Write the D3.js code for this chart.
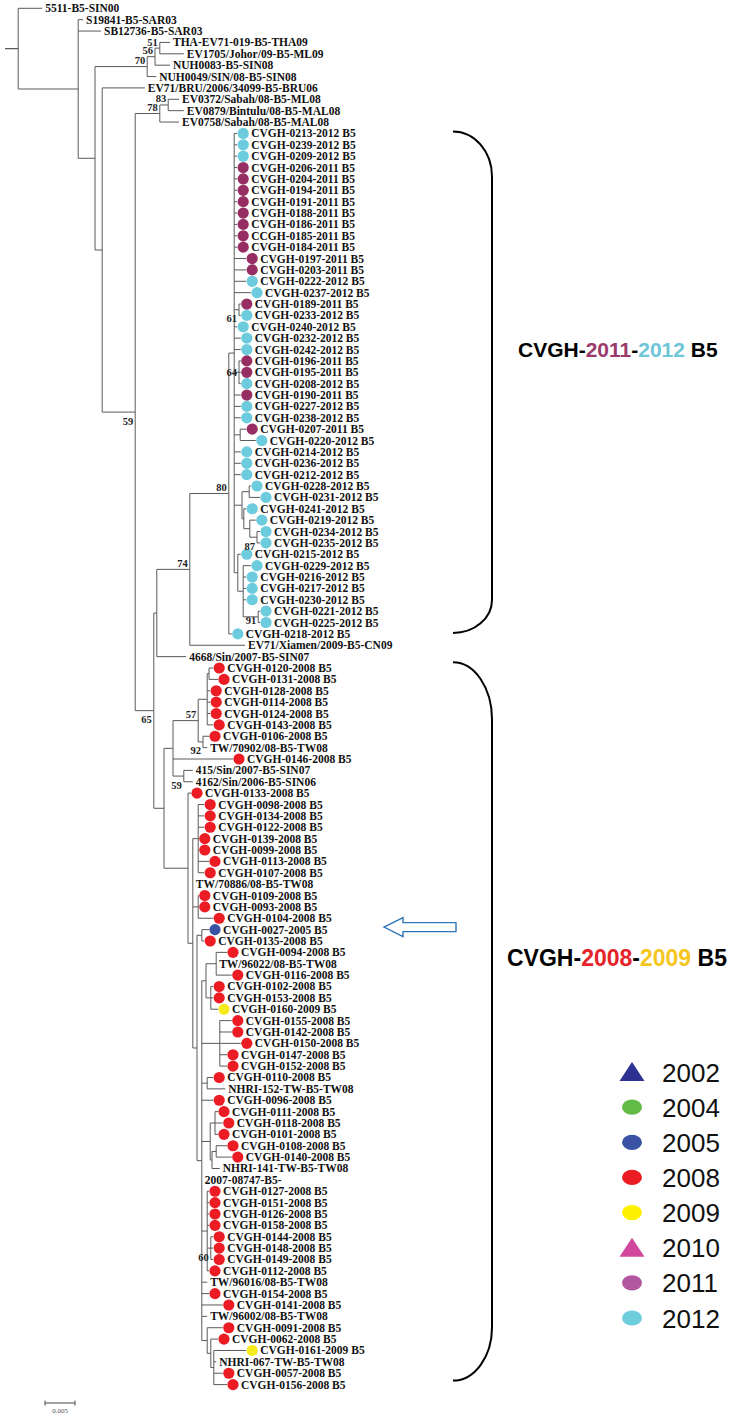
<!DOCTYPE html>
<html><head><meta charset="utf-8">
<script src="https://cdn.jsdelivr.net/npm/d3@7"></script>
<style>body{margin:0;background:#fff}</style>
</head><body>
<svg id="c" width="734" height="1417"></svg>
<script>
// ---------- DATA ----------
// depths are distances from the root, in units of 1e-4 substitutions/site
const leafNames = [
 "5511-B5-SIN00","S19841-B5-SAR03","SB12736-B5-SAR03","THA-EV71-019-B5-THA09","EV1705/Johor/09-B5-ML09",
 "NUH0083-B5-SIN08","NUH0049/SIN/08-B5-SIN08","EV71/BRU/2006/34099-B5-BRU06","EV0372/Sabah/08-B5-ML08","EV0879/Bintulu/08-B5-MAL08",
 "EV0758/Sabah/08-B5-MAL08","CVGH-0213-2012 B5","CVGH-0239-2012 B5","CVGH-0209-2012 B5","CVGH-0206-2011 B5",
 "CVGH-0204-2011 B5","CVGH-0194-2011 B5","CVGH-0191-2011 B5","CVGH-0188-2011 B5","CVGH-0186-2011 B5",
 "CCGH-0185-2011 B5","CVGH-0184-2011 B5","CVGH-0197-2011 B5","CVGH-0203-2011 B5","CVGH-0222-2012 B5",
 "CVGH-0237-2012 B5","CVGH-0189-2011 B5","CVGH-0233-2012 B5","CVGH-0240-2012 B5","CVGH-0232-2012 B5",
 "CVGH-0242-2012 B5","CVGH-0196-2011 B5","CVGH-0195-2011 B5","CVGH-0208-2012 B5","CVGH-0190-2011 B5",
 "CVGH-0227-2012 B5","CVGH-0238-2012 B5","CVGH-0207-2011 B5","CVGH-0220-2012 B5","CVGH-0214-2012 B5",
 "CVGH-0236-2012 B5","CVGH-0212-2012 B5","CVGH-0228-2012 B5","CVGH-0231-2012 B5","CVGH-0241-2012 B5",
 "CVGH-0219-2012 B5","CVGH-0234-2012 B5","CVGH-0235-2012 B5","CVGH-0215-2012 B5","CVGH-0229-2012 B5",
 "CVGH-0216-2012 B5","CVGH-0217-2012 B5","CVGH-0230-2012 B5","CVGH-0221-2012 B5","CVGH-0225-2012 B5",
 "CVGH-0218-2012 B5","EV71/Xiamen/2009-B5-CN09","4668/Sin/2007-B5-SIN07","CVGH-0120-2008 B5","CVGH-0131-2008 B5",
 "CVGH-0128-2008 B5","CVGH-0114-2008 B5","CVGH-0124-2008 B5","CVGH-0143-2008 B5","CVGH-0106-2008 B5",
 "TW/70902/08-B5-TW08","CVGH-0146-2008 B5","415/Sin/2007-B5-SIN07","4162/Sin/2006-B5-SIN06","CVGH-0133-2008 B5",
 "CVGH-0098-2008 B5","CVGH-0134-2008 B5","CVGH-0122-2008 B5","CVGH-0139-2008 B5","CVGH-0099-2008 B5",
 "CVGH-0113-2008 B5","CVGH-0107-2008 B5","TW/70886/08-B5-TW08","CVGH-0109-2008 B5","CVGH-0093-2008 B5",
 "CVGH-0104-2008 B5","CVGH-0027-2005 B5","CVGH-0135-2008 B5","CVGH-0094-2008 B5","TW/96022/08-B5-TW08",
 "CVGH-0116-2008 B5","CVGH-0102-2008 B5","CVGH-0153-2008 B5","CVGH-0160-2009 B5","CVGH-0155-2008 B5",
 "CVGH-0142-2008 B5","CVGH-0150-2008 B5","CVGH-0147-2008 B5","CVGH-0152-2008 B5","CVGH-0110-2008 B5",
 "NHRI-152-TW-B5-TW08","CVGH-0096-2008 B5","CVGH-0111-2008 B5","CVGH-0118-2008 B5","CVGH-0101-2008 B5",
 "CVGH-0108-2008 B5","CVGH-0140-2008 B5","NHRI-141-TW-B5-TW08","2007-08747-B5-","CVGH-0127-2008 B5",
 "CVGH-0151-2008 B5","CVGH-0126-2008 B5","CVGH-0158-2008 B5","CVGH-0144-2008 B5","CVGH-0148-2008 B5",
 "CVGH-0149-2008 B5","CVGH-0112-2008 B5","TW/96016/08-B5-TW08","CVGH-0154-2008 B5","CVGH-0141-2008 B5",
 "TW/96002/08-B5-TW08","CVGH-0091-2008 B5","CVGH-0062-2008 B5","CVGH-0161-2009 B5","NHRI-067-TW-B5-TW08",
 "CVGH-0057-2008 B5","CVGH-0156-2008 B5"
];
const leafYears = [
 0,0,0,0,0, 0,0,0,0,0,
 0,2012,2012,2012,2011, 2011,2011,2011,2011,2011,
 2011,2011,2011,2011,2012, 2012,2011,2012,2012,2012,
 2012,2011,2011,2012,2011, 2012,2012,2011,2012,2012,
 2012,2012,2012,2012,2012, 2012,2012,2012,2012,2012,
 2012,2012,2012,2012,2012, 2012,0,0,2008,2008,
 2008,2008,2008,2008,2008, 0,2008,0,0,2008,
 2008,2008,2008,2008,2008, 2008,2008,0,2008,2008,
 2008,2005,2008,2008,0, 2008,2008,2008,2009,2008,
 2008,2008,2008,2008,2008, 0,2008,2008,2008,2008,
 2008,2008,0,0,2008, 2008,2008,2008,2008,2008,
 2008,2008,0,2008,2008, 0,2008,2008,2009,0,
 2008,2008
];
const leafParents = [
 "nroot","A","A","F","F", "E","D","G","J","J",
 "I","P","P","P","P", "P","P","P","P","P",
 "P","P","P","P","P", "P","n61","n61","P","P",
 "P","n64","n64","n64","P", "P","P","n38","n38","P",
 "P","P","Q2","Q2","Q3", "Q4","Q5","Q5","R1","R2",
 "R2","R2","R2","R3","R3", "N80","N74","L","Nb","Nb",
 "Na","Na","Na","Na","N92", "N92","N173","N415","N415","Nbig",
 "N198a","N198a","N198a","N198a","N198a", "N198a","N198a","N193b","N109","N109",
 "N109","N0027","N0027","N94","N94", "N94","N102","N102","N102","N0155",
 "N0155","N0155","N0155","N0155","N110", "N110","N202","N111a","N111a","N111a",
 "N108","N108","N108b","N202","N127", "N127","N127","N127","N144","N144",
 "N144","N127","N202","N202","N202", "N202","N091","N062","N161","N161",
 "N161","N161"
];
const leafDepths = [
 62,130,160,275,298, 275,252,233,290,298,
 290,387,387,387,387, 387,387,387,387,387,
 387,387,402,402,402, 410,393,393,387,393,
 393,393,393,393,393, 393,393,402,418,393,
 393,393,410,425,402, 418,425,425,393,410,
 402,402,402,425,425, 378,400,302,347,355,
 342,342,342,347,340, 337,380,313,313,310,
 332,332,332,323,323, 340,332,313,323,323,
 347,340,332,370,352, 378,347,347,355,378,
 378,393,370,370,347, 367,347,355,363,355,
 370,378,358,328,340, 340,340,340,347,347,
 347,340,337,340,363, 337,363,355,402,352,
 363,370
];
const nodeIds =     ["root0","nroot","A","C","D","E","F","G","H","I","J","K","L","N74","N80","P","n61","n64","n38","Q1","Q2","Q3","Q4","Q5","R1","R2","R3",
                     "M","N173","N57","Na","Nb","N92","N415","Nbig","N193b","N198a","N109","N197","N0027","N202","N94_102","N94","N102","N0155","N110","N111","N111a","N108b","N108","N127","N144","N091","N062","N161"];
const nodeParents = ["","root0","nroot","A","C","D","E","C","G","H","I","H","K","L","N74","N80","P","P","P","P","Q1","Q1","Q3","Q4","P","R1","R2",
                     "K","M","N173","N57","Na","N57","N173","M","Nbig","N193b","N193b","N193b","N197","N197","N202","N94_102","N94_102","N202","N202","N202","N111","N111","N108b","N202","N127","N202","N091","N062"];
const nodeDepths =  [0,22,122,150,237,250,258,162,217,258,272,248,253,308,373,382,390,390,392,395,407,398,408,420,388,397,422,
                     265,280,322,337,340,330,298,305,313,322,322,320,328,328,335,352,343,358,337,342,350,345,352,337,343,337,343,348];
// bootstrap support values: node, value, placement (a = above, b = below, c = below tight, m = beside)
const bootNodes  = ["F","E","D","J","I","H","N74","N80","n61","n64","Q5","R3","K","N57","N92","N415","N144"];
const bootValues = [51,56,70,83,78,59,74,80,61,64,87,91,65,57,92,59,60];
const bootPlace  = ["a","a","a","a","a","b","a","a","b","m","b","c","b","a","b","b","b"];
const legendYears  = [2002,2004,2005,2008,2009,2010,2011,2012];
const legendShapes = ["triangle","circle","circle","circle","circle","triangle","circle","circle"];
const cladeLeafRanges = [[11,55],[57,121]];   // leaf indices covered by the two brackets
const cladeTitles = [
  [["CVGH-","k"],["2011","y2011"],["-","k"],["2012","y2012"],[" B5","k"]],
  [["CVGH-","k"],["2008","y2008"],["-","k"],["2009","y2009"],[" B5","k"]]
];
const arrowLeaf = 81;            // CVGH-0027-2005 B5
const scaleBarValue = 50;        // 50 x 1e-4 = 0.005

// ---------- STYLE ----------
const treeColors = {2005:"#3a53a4",2008:"#ec1c24",2009:"#f4ec1c",2011:"#962e63",2012:"#6ccbdc"};
const legendColors = {2002:"#2e3192",2004:"#62bb47",2005:"#3a53a4",2008:"#ec1c24",2009:"#fff200",2010:"#d1489c",2011:"#b1579f",2012:"#6dcddd"};
const titleColors = {k:"#000",y2011:"#9b3a6a",y2012:"#6ec6d8",y2008:"#e52329",y2009:"#f6c620"};

const svg = d3.select("#c");
const x = d3.scaleLinear().domain([0, 50]).range([5, 35]);
const y = d3.scaleLinear().domain([0, leafNames.length - 1]).range([8.3, 1384.6]);

const rows = [];
nodeIds.forEach((id, i) => rows.push({id, parentId: nodeParents[i] || null, depth: nodeDepths[i], leaf: false}));
leafNames.forEach((n, i) => rows.push({id: "leaf" + i, parentId: leafParents[i], depth: leafDepths[i], leaf: true, name: n, year: leafYears[i], idx: i}));
const root = d3.stratify().id(d => d.id).parentId(d => d.parentId)(rows);
root.eachAfter(n => { n.minIdx = n.data.leaf ? n.data.idx : d3.min(n.children, c => c.minIdx); });
root.sort((a, b) => a.minIdx - b.minIdx);
root.eachAfter(n => {
  n.px = x(n.data.depth);
  n.py = n.data.leaf ? y(n.data.idx) : (n.children[0].py + n.children[n.children.length - 1].py) / 2;
});

const gT = svg.append("g");
const branchColor = "#5a5a5a";
// horizontal branches
gT.selectAll("line.h").data(root.descendants().filter(d => d.parent)).join("line")
  .attr("x1", d => d.parent.px).attr("x2", d => d.px).attr("y1", d => d.py).attr("y2", d => d.py)
  .attr("stroke", branchColor).attr("stroke-width", 1);
// root stem
gT.append("line").attr("x1", root.px).attr("x2", root.children[0].px).attr("y1", root.children[0].py).attr("y2", root.children[0].py)
  .attr("stroke", branchColor);
// vertical connectors
gT.selectAll("line.v").data(root.descendants().filter(d => d.children && d.children.length > 1)).join("line")
  .attr("x1", d => d.px).attr("x2", d => d.px)
  .attr("y1", d => d.children[0].py).attr("y2", d => d.children[d.children.length - 1].py)
  .attr("stroke", branchColor).attr("stroke-width", 1);

const leaves = root.leaves();
gT.selectAll("circle.m").data(leaves.filter(d => d.data.year)).join("circle")
  .attr("cx", d => d.px + 6).attr("cy", d => d.py).attr("r", 5.6)
  .attr("fill", d => treeColors[d.data.year]);
gT.selectAll("text.l").data(leaves).join("text")
  .attr("x", d => d.px + (d.data.year ? 14 : 3)).attr("y", d => d.py + 4)
  .attr("font-family", "Liberation Serif, Times New Roman, serif").attr("font-weight", "bold")
  .attr("font-size", 11.5).attr("fill", "#111").text(d => d.data.name);

// bootstrap values
const byId = new Map(root.descendants().map(d => [d.id, d]));
const bootDy = {a: -2.5, b: 12.5, c: 7.5, m: 4};
bootNodes.forEach((id, i) => {
  const n = byId.get(id);
  gT.append("text").attr("x", n.px - 2).attr("y", n.py + bootDy[bootPlace[i]]).attr("text-anchor", "end")
    .attr("font-family", "Liberation Serif, Times New Roman, serif").attr("font-weight", "bold")
    .attr("font-size", 10.5).attr("fill", "#222").text(bootValues[i]);
});

// brackets
const br = [
  {top: y(cladeLeafRanges[0][0]) - 2, bot: y(cladeLeafRanges[0][1]) - 1, rt: 45, rb: 33},
  {top: (y(cladeLeafRanges[1][0]) + y(cladeLeafRanges[1][0] + 1)) / 2, bot: y(cladeLeafRanges[1][1]) - 4, rt: 57, rb: 53}
];
br.forEach(b => {
  svg.append("path")
    .attr("d", `M453,${b.top} A39,${b.rt} 0 0 1 492,${b.top + b.rt} L492,${b.bot - b.rb} A39,${b.rb} 0 0 1 453,${b.bot}`)
    .attr("fill", "none").attr("stroke", "#000").attr("stroke-width", 2);
});
// clade titles
const titlePos = [{x: 518, y: 357, fs: 21}, {x: 507, y: 966, fs: 23}];
cladeTitles.forEach((parts, i) => {
  const t = svg.append("text").attr("x", titlePos[i].x).attr("y", titlePos[i].y)
    .attr("font-family", "Liberation Sans, Arial, sans-serif").attr("font-weight", "bold").attr("font-size", titlePos[i].fs);
  parts.forEach(p => t.append("tspan").attr("fill", titleColors[p[1]]).text(p[0]));
});

// arrow
const ay = y(arrowLeaf) - 2.5;
svg.append("path")
  .attr("d", `M384,${ay} L403,${ay - 9.5} L403,${ay - 4.5} L456,${ay - 4.5} L456,${ay + 4.5} L403,${ay + 4.5} L403,${ay + 9.5} Z`)
  .attr("fill", "#fff").attr("stroke", "#2e75b6").attr("stroke-width", 1.4);

// legend
const lg = svg.append("g");
const ly = d3.scaleLinear().domain([0, legendYears.length - 1]).range([1072, 1318]);
legendYears.forEach((yr, i) => {
  const cy = ly(i);
  if (legendShapes[i] === "triangle") {
    lg.append("path").attr("d", `M632,${cy - 10} L644.5,${cy + 9} L619.5,${cy + 9} Z`).attr("fill", legendColors[yr]);
  } else {
    lg.append("ellipse").attr("cx", 632).attr("cy", cy).attr("rx", 10).attr("ry", 7.6).attr("fill", legendColors[yr]);
  }
  lg.append("text").attr("x", 662).attr("y", cy + 9.5)
    .attr("font-family", "Liberation Sans, Arial, sans-serif").attr("font-size", 26).attr("fill", "#111").text(yr);
});

// scale bar
const sbLen = x(scaleBarValue) - x(0);
const sb = svg.append("g").attr("transform", "translate(45,1403)");
sb.append("line").attr("x1", 0).attr("x2", sbLen).attr("stroke", "#444");
sb.append("line").attr("x1", 0).attr("x2", 0).attr("y1", -2.5).attr("y2", 2.5).attr("stroke", "#444");
sb.append("line").attr("x1", sbLen).attr("x2", sbLen).attr("y1", -2.5).attr("y2", 2.5).attr("stroke", "#444");
sb.append("text").attr("x", sbLen / 2).attr("y", 9.5).attr("text-anchor", "middle")
  .attr("font-family", "Liberation Serif, serif").attr("font-size", 7).attr("fill", "#555")
  .text(d3.format(".3f")(scaleBarValue * 1e-4));
</script>
</body></html>
